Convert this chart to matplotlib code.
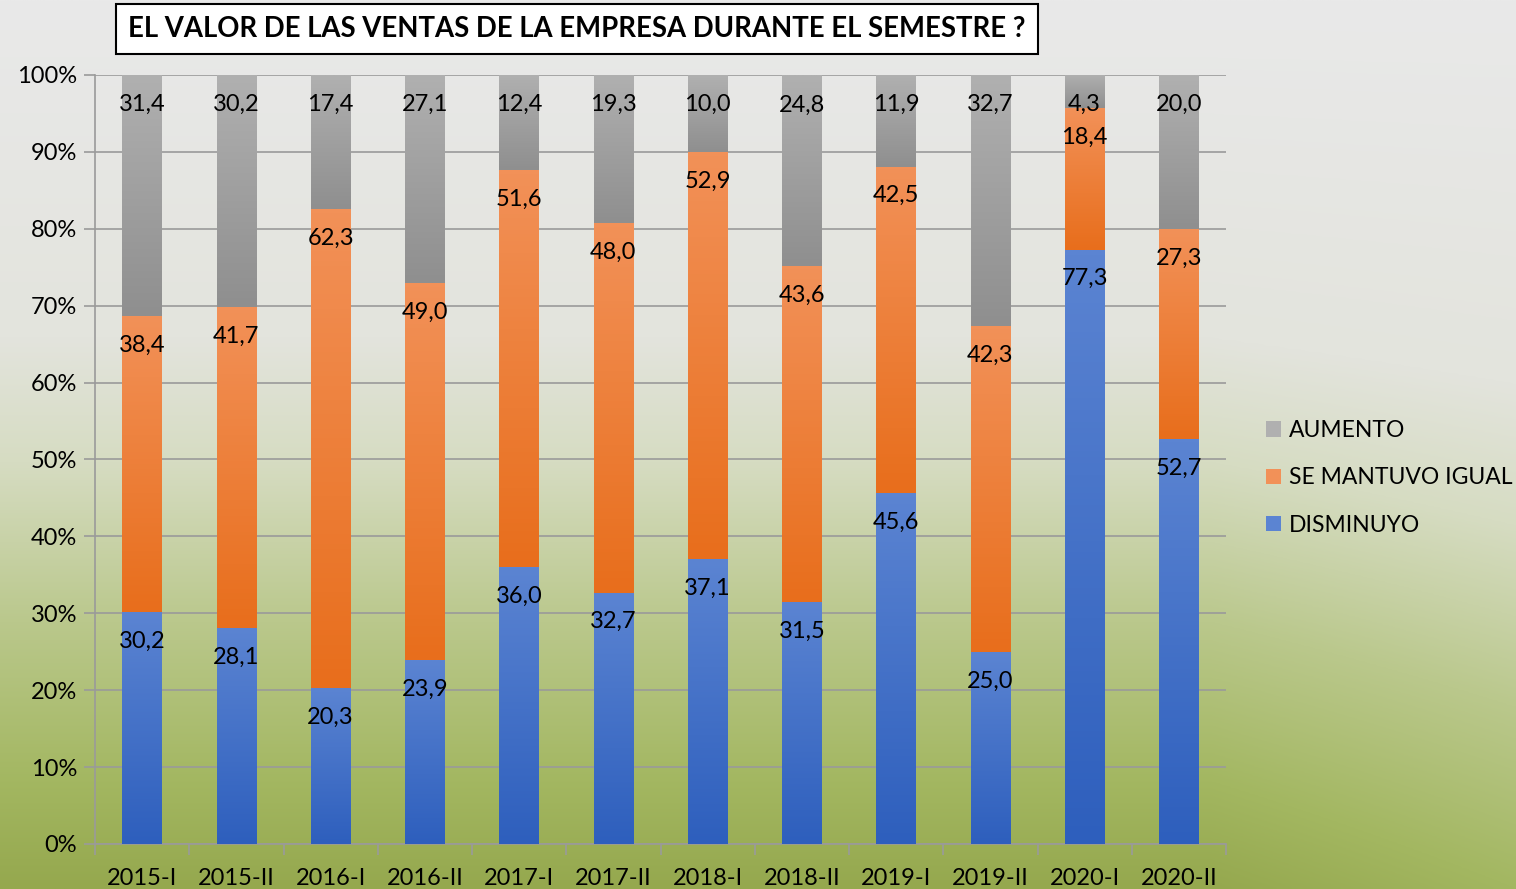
import numpy as np
import matplotlib
matplotlib.use('Agg')
from matplotlib import pyplot as plt
from matplotlib.colors import LinearSegmentedColormap, to_rgb
from matplotlib.patches import Patch

plt.rcParams['font.family'] = ['Lato', 'DejaVu Sans']

# datos
categorias = ['2015-I', '2015-II', '2016-I', '2016-II', '2017-I', '2017-II',
              '2018-I', '2018-II', '2019-I', '2019-II', '2020-I', '2020-II']
disminuyo = [30.2, 28.1, 20.3, 23.9, 36.0, 32.7, 37.1, 31.5, 45.6, 25.0, 77.3, 52.7]
se_mantuvo = [38.4, 41.7, 62.3, 49.0, 51.6, 48.0, 52.9, 43.6, 42.5, 42.3, 18.4, 27.3]
aumento = [31.4, 30.2, 17.4, 27.1, 12.4, 19.3, 10.0, 24.8, 11.9, 32.7, 4.3, 20.0]

series = [('DISMINUYO', disminuyo, '#5b84d2', '#2e5fbd'),
          ('SE MANTUVO IGUAL', se_mantuvo, '#f29158', '#e86e1c'),
          ('AUMENTO', aumento, '#b0b0b0', '#8f8f8f')]

fig = plt.figure(figsize=(15.16, 8.89), dpi=100)

# fondo con degradado (fila 0 = arriba)
bg = fig.add_axes([0, 0, 1, 1], zorder=-10)
bg.axis('off')
h, w = 300, 500
yy, xx = np.mgrid[0:1:h * 1j, 0:1:w * 1j]
stops = [(0.0, '#e9e9e9'), (0.38, '#e3e4dd'), (0.52, '#d6dcc2'), (0.7, '#bac88c'),
         (0.88, '#a3b761'), (1.0, '#95a84e')]
pos = np.array([s[0] for s in stops])
cols = np.array([to_rgb(s[1]) for s in stops])
t = yy - 0.12 * np.clip((xx - 0.8) / 0.2, 0, 1) * np.clip(yy, 0, 1)
img = np.zeros((h, w, 3))
for c in range(3):
    img[..., c] = np.interp(t, pos, cols[:, c])
bg.imshow(img, extent=[0, 1, 0, 1], aspect='auto', origin='upper')
bg.set_xlim(0, 1)
bg.set_ylim(0, 1)

ax = fig.add_axes([95 / 1516, 45 / 889, 1131 / 1516, 769 / 889])
ax.patch.set_alpha(0)

x = np.arange(len(categorias))
ancho = 0.42
base = np.zeros(len(categorias))
for nombre, vals, c_top, c_bot in series:
    vals = np.array(vals)
    bars = ax.bar(x, vals, ancho, bottom=base, color=c_top, label=nombre, zorder=3)
    cmap = LinearSegmentedColormap.from_list(nombre, [c_bot, c_top])
    grad = np.linspace(0, 1, 100).reshape(-1, 1)
    for b in bars:
        x0, y0 = b.get_x(), b.get_y()
        ax.imshow(grad, cmap=cmap, origin='lower', aspect='auto', zorder=3.5,
                  extent=[x0, x0 + b.get_width(), y0, y0 + b.get_height()])
    for xi, v, bo in zip(x, vals, base):
        ax.text(xi, bo + v - 3.8, f'{v:.1f}'.replace('.', ','), ha='center', va='center',
                fontsize=17, color='black', zorder=5)
    base = base + vals

ax.set_xlim(-0.5, len(categorias) - 0.5)
ax.set_ylim(0, 100)
ax.set_yticks(np.arange(0, 101, 10))
ax.set_yticklabels([f'{v}%' for v in range(0, 101, 10)], fontsize=17)
ax.yaxis.grid(True, color='#9a9a9a', linewidth=1.2, zorder=0)
ax.set_axisbelow(True)
ax.tick_params(axis='y', length=8, color='#9a9a9a', width=1.2, pad=5)

ax.set_xticks(x)
ax.set_xticklabels(categorias, fontsize=17)
ax.set_xticks(np.arange(-0.5, len(categorias), 1), minor=True)
ax.tick_params(axis='x', which='major', length=0, pad=17)
ax.tick_params(axis='x', which='minor', length=8, color='#9a9a9a', width=1.2)

for s in ['top', 'right']:
    ax.spines[s].set_visible(False)
for s in ['left', 'bottom']:
    ax.spines[s].set_color('#9a9a9a')
    ax.spines[s].set_linewidth(1.2)

handles = [Patch(facecolor=s[2], label=s[0]) for s in series][::-1]
leg = fig.legend(handles=handles, loc='center left', bbox_to_anchor=(1266 / 1516, 1 - 478 / 889),
                 frameon=False, fontsize=16.5, handlelength=0.65, handleheight=0.65,
                 handletextpad=0.35, labelspacing=1.15, borderpad=0, borderaxespad=0)

fig.text(577 / 1516, 1 - 29 / 889, 'EL VALOR DE LAS VENTAS DE LA EMPRESA DURANTE EL SEMESTRE ?',
         ha='center', va='center', fontsize=19.8, fontweight='bold',
         bbox=dict(boxstyle='square,pad=0.45', facecolor='white', edgecolor='black', linewidth=1.5))

fig.savefig('out.png', dpi=100)
